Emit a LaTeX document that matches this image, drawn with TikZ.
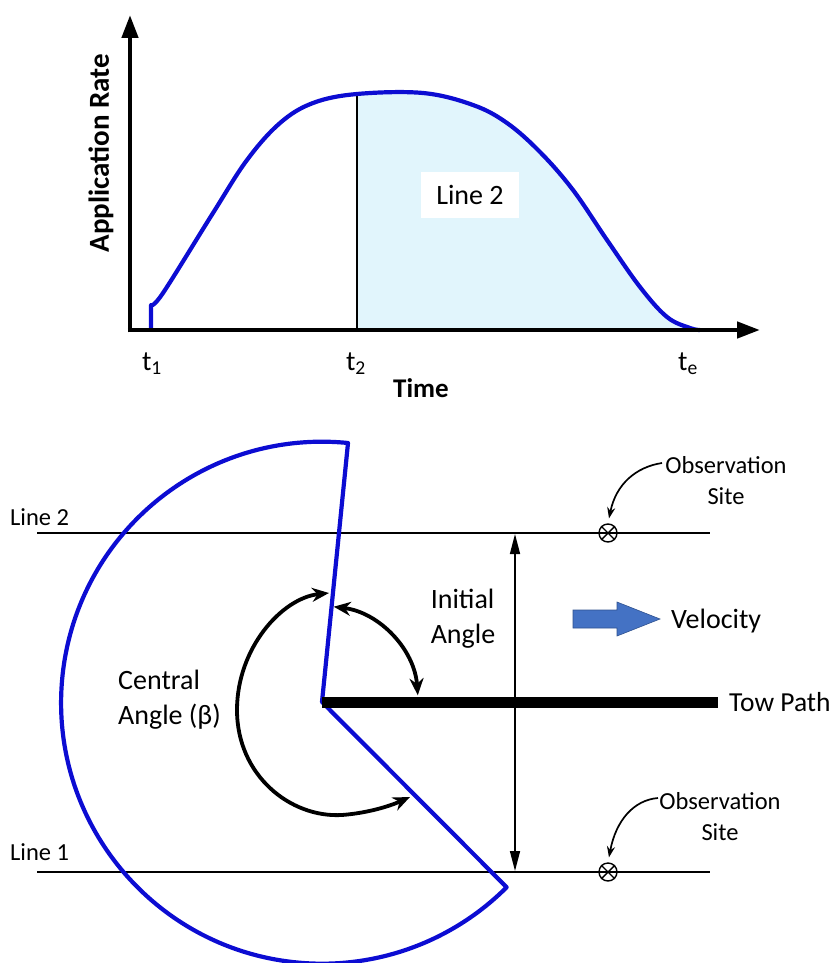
\documentclass[tikz,border=0pt]{standalone}
\usepackage{fontspec}
\setmainfont{Carlito}
\usetikzlibrary{arrows.meta,calc}
\definecolor{curveblue}{RGB}{12,12,210}
\definecolor{fillblue}{RGB}{225,245,252}
\definecolor{velblue}{RGB}{68,114,196}
\definecolor{veledge}{RGB}{47,82,143}
\newcommand{\myfs}[2]{\fontsize{#1}{#2}\selectfont}
\begin{document}
\begin{tikzpicture}[x=1pt,y=-1pt,
  axis/.style={line width=4.5pt,-{Triangle[length=23pt,width=16pt]}},
  bluecurve/.style={curveblue,line width=4.2pt,line join=round},
  lbl/.style={inner sep=0pt,font=\myfs{28}{35}},
  smalllbl/.style={inner sep=0pt,font=\myfs{24.5}{31}},
  thinline/.style={line width=2pt},
  anglearrow/.style={line width=3.8pt,{Stealth[length=17pt,width=14pt]}-{Stealth[length=17pt,width=14pt]}},
  obssite/.style={circle,draw,line width=1.4pt,minimum size=18pt,inner sep=0pt},
  obsarrow/.style={line width=1.7pt,-{Stealth[length=11pt,width=8pt]}}
]
\useasboundingbox (0,0) rectangle (837,963);

% ---------- top graph ----------
\fill[fillblue] (357,330) -- plot[smooth,tension=0.6] coordinates {(357,94) (423,93) (473,105) (507,123) (540,152) (573,190) (607,240) (640,287) (667,317) (690,328) (700,330)} -- cycle;
\node[fill=white,minimum width=98pt,minimum height=46pt,inner sep=0pt,font=\myfs{28}{30}] (l2box) at (470,195) {Line 2};
\draw[line width=2pt] (357,94) -- (357,330);
\draw[bluecurve] (151,331) -- (151,305) -- plot[smooth,tension=0.6] coordinates {(151,305) (163,293) (213,213) (247,160) (280,123) (313,103) (357,94) (423,93) (473,105) (507,123) (540,152) (573,190) (607,240) (640,287) (667,317) (690,328) (700,330)};
\coordinate (origin) at (130,330);
\coordinate (ytip) at (130,15);
\coordinate (xtip) at (760,330);
\draw[axis] ($(origin)+(0,2.25)$) -- (ytip);
\draw[axis] ($(origin)+(-2.25,0)$) -- (xtip);
\node[lbl] (t1) at (152,364) {t\textsubscript{1}};
\node[lbl] (t2) at (356,364) {t\textsubscript{2}};
\node[lbl] (te) at (688,364) {t\textsubscript{e}};
\node[lbl,font=\myfs{27}{30}\bfseries] (time) at (421,388) {Time};
\node[lbl,font=\myfs{29}{30}\bfseries,rotate=90] (apprate) at (101,153) {Application Rate};

% ---------- bottom diagram ----------
\coordinate (c) at (322,702);
\draw[thinline] (37,533) -- (710,533);
\draw[thinline] (37,872) -- (710,872);
\node[smalllbl,anchor=west] (line2) at (10,517) {Line 2};
\node[smalllbl,anchor=west] (line1) at (10,852) {Line 1};

\draw[bluecurve] (c) -- (348,443) arc[start angle=-84.3,end angle=-315,radius=261] -- cycle;
\draw[line width=11pt] (c) -- (718,702);
\node[lbl,anchor=west,font=\myfs{27.5}{35}] (tow) at (729,702) {Tow Path};

% initial angle
\draw[anglearrow] ($(c)+(-83:96)$) arc[start angle=-83,end angle=-4,radius=96];
\node[lbl,align=left] (init) at (463,619) {Initial\\Angle};

% central angle
\draw[anglearrow] (329,593) .. controls (282,598) and (237,648) .. (237,710)
  .. controls (237,775) and (290,818) .. (342,815)
  .. controls (368,813) and (390,806) .. (410,797);
\node[lbl,align=left,anchor=west] (central) at (118,700) {Central\\Angle (β)};

% vertical double arrow
\draw[line width=1.5pt,{Triangle[length=20pt,width=10pt]}-{Triangle[length=20pt,width=10pt]}] (515,534) -- (515,871);

% velocity
\filldraw[fill=velblue,draw=veledge,line width=0.6pt] (573,610) -- (617,610) -- (617,602) -- (660,619) -- (617,636) -- (617,628) -- (573,628) -- cycle;
\node[lbl,anchor=west] (vel) at (671,621) {Velocity};

% observation sites
\node[obssite] (o2) at (608,533) {};
\draw[line width=1.4pt] (o2.north west) -- (o2.south east) (o2.north east) -- (o2.south west);
\node[obssite] (o1) at (608,872) {};
\draw[line width=1.4pt] (o1.north west) -- (o1.south east) (o1.north east) -- (o1.south west);
\node[smalllbl,align=center] (obs2) at (726,481) {Observation\\Site};
\node[smalllbl,align=center] (obs1) at (720,817) {Observation\\Site};
\coordinate (s2) at (662,463);
\coordinate (s1) at (658,798);
\draw[obsarrow,shorten >=5pt] (s2) .. controls (636,467) and (616,484) .. (o2.north);
\draw[obsarrow,shorten >=5pt] (s1) .. controls (634,800) and (616,820) .. (o1.north);
\end{tikzpicture}
\end{document}
